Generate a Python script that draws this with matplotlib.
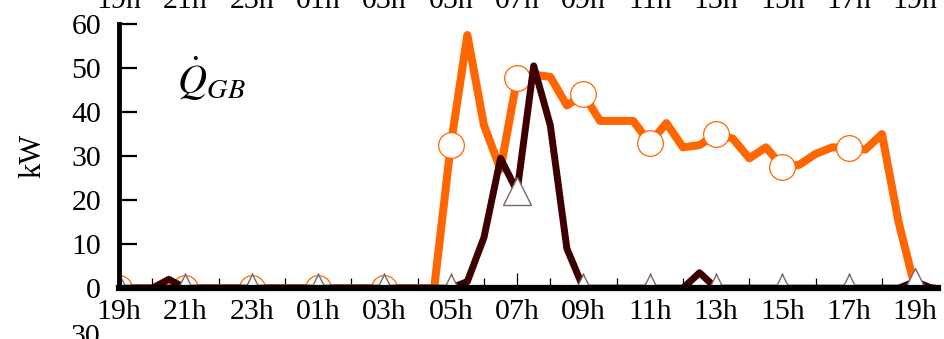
import matplotlib
matplotlib.use("Agg")
import matplotlib.pyplot as plt
import matplotlib.transforms as mtransforms
import numpy as np

plt.rcParams["font.family"] = ["Liberation Serif", "DejaVu Serif"]
plt.rcParams["mathtext.fontset"] = "stix"

# half-hourly samples starting at 19h
hours = np.arange(0, 25, 0.5)

q_gb = [0, 0, 0, 0, 0, 0, 0, 0, 0, 0,
        0, 0, 0, 0, 0, 0, 0, 0, 0, 0,
        32.5, 57.5, 37, 27, 47.7, 48.5, 48, 41.5, 44, 38,
        38, 38, 33, 37.5, 32, 32.5, 35, 34, 29.5, 32,
        27.6, 28, 30.5, 32, 31.8, 31.5, 35, 15, 0, 0]

q_other = [0, 0, 0, 2, 0, 0, 0, 0, 0, 0,
           0, 0, 0, 0, 0, 0, 0, 0, 0, 0,
           0, 1.5, 11.5, 29.5, 22, 50.5, 37, 9, 0, 0,
           0, 0, 0, 0, 0, 3.5, 0, 0, 0, 0,
           0, 0, 0, 0, 0, 0, 0, 0, 1.5, 0]

tick_hours = [0, 2, 4, 6, 8, 10, 12, 14, 16, 18, 20, 22, 24]
tick_labels = ["19h", "21h", "23h", "01h", "03h", "05h", "07h",
               "09h", "11h", "13h", "15h", "17h", "19h"]

ORANGE = "#ff6600"
DARK = "#3d0000"

fig = plt.figure(figsize=(9.45, 3.39), dpi=100)
ax = fig.add_axes([0.126, 0.150, 0.867, 0.779])

ax.plot(hours, q_gb, color=ORANGE, lw=5.8, marker="o", ms=18.5,
        mfc="white", mec=ORANGE, mew=0.9, markevery=list(range(0, 48, 4)),
        solid_joinstyle="round")
ax.plot(hours, q_other, color=DARK, lw=5.0, marker="^", ms=20,
        mfc="white", mec="#7a6666", mew=1.0, markevery=list(range(0, 50, 4)),
        solid_joinstyle="round")

ax.set_xlim(0, 24.7)
ax.set_ylim(0, 60)
ax.set_xticks(tick_hours)
ax.set_xticklabels(tick_labels)
ax.set_xticks(np.arange(1, 24, 2), minor=True)
ax.set_yticks([0, 10, 20, 30, 40, 50, 60])

for s in ("top", "right"):
    ax.spines[s].set_visible(False)
ax.spines["left"].set_linewidth(3.5)
ax.spines["bottom"].set_linewidth(4.5)
ax.spines["left"].set_zorder(3)
ax.spines["bottom"].set_zorder(3)

ax.tick_params(axis="x", which="major", direction="in", length=11, width=0.9,
               labelsize=21.5, pad=8, zorder=4)
ax.tick_params(axis="x", which="minor", direction="in", length=7, width=0.9)
ax.tick_params(axis="y", which="major", direction="in", length=13, width=1.6,
               labelsize=21.5, pad=13)

ax.set_ylabel("kW", fontsize=22)
ax.yaxis.set_label_coords(-0.088, 0.5)

ax.text(1.75, 44, r"$\dot{Q}_{GB}$", fontsize=29, va="baseline", ha="left")

# labels of the neighbouring panels, cut by the figure edge
trans = mtransforms.blended_transform_factory(ax.transData, fig.transFigure)
for h, lab in zip(tick_hours, tick_labels):
    fig.text(h, 0.975, lab, transform=trans, ha="center", va="baseline",
             fontsize=21.5)
fig.text(0.106, -0.015, "30", ha="right", va="baseline", fontsize=21.5)

fig.savefig("out.png", dpi=100)
